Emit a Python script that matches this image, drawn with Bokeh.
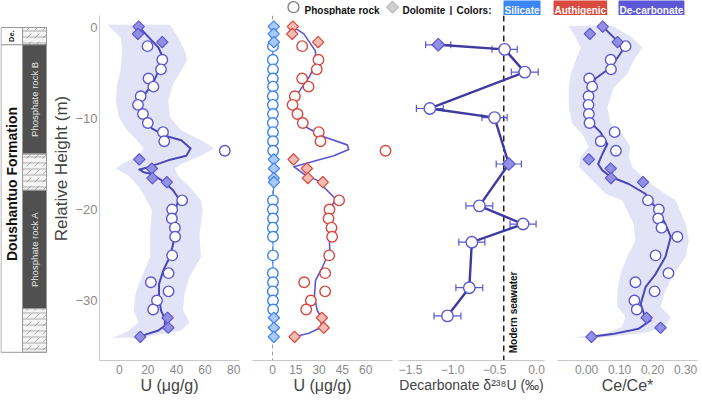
import math
from bokeh.plotting import figure
from bokeh.layouts import column, row
from bokeh.models import (Range1d, ColumnDataSource, Span, Whisker, TeeHead, Label,
                          FixedTicker, CustomJSTickFormatter)
from bokeh.core.properties import value
from bokeh.embed import file_html
from bokeh.resources import INLINE

# ---------------- data ----------------
heights = [0.1, -0.7, -1.6, -2.05, -3.55, -4.6, -5.6, -6.5, -7.55, -8.5, -9.5, -10.5,
           -11.5, -12.5, -13.55, -14.5, -15.5, -16.55, -17.0, -19.0, -20.0, -21.0, -22.0,
           -23.0, -25.05, -27.0, -28.0, -29.0, -30.0, -31.0, -31.9, -33.0, -34.0]
lithology = ["D", "D", "D"] + ["P"] * 12 + ["D"] * 4 + ["P"] * 11 + ["D"] * 3

u_decarb = [13.6, 13.1, 30.1, 19.8, 30.1, 29.2, 20.5, 23.9, 15.0, 13.1, 16.6, 20.0, 30.6,
            31.5, 73.8, 14.0, 22.8, 23.2, 33.3, 44.0, 37.0, 36.8, 38.9, 39.1, 37.0, 34.5,
            22.1, 34.5, 26.4, 23.7, 33.8, 34.3, 14.7]
u_auth = [13.1, 12.7, 29.4, 19.1, 29.6, 28.5, 19.1, 23.2, 14.4, 12.9, 16.1, 19.5, 29.8,
          30.9, 72.8, 13.5, 22.1, 22.8, 32.4, 42.9, 36.7, 36.1, 38.0, 38.4, 36.5, 33.9,
          20.4, 33.9, 24.7, 21.7, 31.8, 33.0, 14.2]
u_sil = [0.8, 0.7, 0.9, 0.3, 0.2, 0.3, 0.2, 0.3, 0.2, 0.2, 0.3, 0.2, 0.3, 0.3, 0.4, 0.8,
         0.9, 0.8, 0.9, 0.3, 0.2, 0.3, 0.2, 0.3, 0.3, 0.2, 0.3, 0.2, 0.3, 0.4, 0.9, 0.9, 0.8]
ce_anom = [0.049, 0.010, 0.094, 0.118, 0.073, 0.074, 0.008, 0.017, 0.006, 0.006, 0.007,
           0.009, 0.085, 0.043, 0.089, 0.007, 0.073, 0.074, 0.171, 0.186, 0.219, 0.217,
           0.227, 0.275, 0.209, 0.248, 0.148, 0.206, 0.145, 0.152, 0.182, 0.224, 0.015]

# smoothed trend (de-carbonate U) and its envelope
smooth1_h = [0.1, -1.06, -2.2, -3.1, -4.4, -6.0, -7.3, -8.4, -9.7, -11.1, -11.9, -12.4,
             -13.3, -14.1, -14.6, -15.35, -15.6, -15.9, -16.1, -16.8, -17.9, -18.9, -19.6,
             -21.6, -23.8, -25.2, -26.7, -28.2, -29.6, -31.1, -32.0, -32.75, -33.3, -33.7, -34.0]
smooth1_u = [13.6, 20.5, 27.4, 30.0, 28.5, 23.9, 18.2, 14.7, 17.0, 22.8, 32.0, 43.4, 49.9,
             46.9, 34.3, 20.5, 14.0, 17.0, 22.8, 29.7, 37.7, 42.0, 40.0, 38.4, 37.7, 35.4,
             30.8, 27.8, 27.8, 29.2, 31.9, 31.9, 27.4, 19.3, 14.7]
band1_h = [0.3, -1.06, -2.5, -3.6, -4.7, -6.2, -8.0, -9.85, -11.3, -12.4, -13.3, -14.1,
           -15.0, -15.5, -16.3, -17.5, -19.0, -20.1, -22.7, -25.2, -27.4, -29.3, -31.1,
           -32.4, -33.3, -33.7, -34.1]
band1_lo = [-8.3, 0.9, 2.1, 1.6, 0.9, -1.4, -2.5, -0.2, 5.5, 12.4, 17.0, 13.6, 2.1, -2.5,
            6.7, 13.6, 19.3, 22.8, 21.6, 21.6, 15.9, 11.3, 10.1, 13.6, 6.7, 2.0, -5.0]
band1_hi = [35.4, 41.1, 45.7, 47.6, 43.4, 37.7, 34.3, 35.4, 43.4, 57.2, 66.4, 57.2, 43.4,
            38.9, 41.1, 49.2, 57.2, 58.4, 56.1, 57.2, 49.2, 45.7, 44.6, 49.2, 43.4, 30.0, 15.0]

# smoothed trend drawn in the authigenic panel
smooth2_h = [0.1, -0.7, -2.6, -4.1, -5.5, -7.1, -8.4, -9.7, -10.9, -12.0, -12.9, -13.4,
             -14.1, -15.3, -16.1, -16.8, -18.9, -19.6, -21.6, -24.5, -26.4, -27.8, -29.6,
             -31.1, -32.0, -33.0, -33.6, -34.0]
smooth2_u = [13.1, 20.2, 27.7, 27.7, 23.4, 16.9, 13.7, 15.9, 21.2, 33.0, 48.1, 49.1, 39.5,
             13.7, 20.2, 28.8, 41.0, 38.0, 36.3, 36.9, 32.0, 27.7, 27.0, 28.8, 32.0, 30.9,
             23.4, 14.2]

# Ce anomaly trend and envelope
smooth4_h = [0.1, -1.5, -2.05, -3.3, -4.4, -5.6, -6.5, -8.0, -9.5, -10.6, -11.5, -12.8,
             -13.9, -15.0, -15.7, -16.4, -17.2, -18.3, -19.0, -19.7, -21.6, -23.0, -25.2,
             -27.1, -28.5, -30.4, -31.5, -32.2, -33.1, -33.7, -34.0]
smooth4_c = [0.049, 0.094, 0.118, 0.094, 0.073, 0.027, 0.017, 0.012, 0.012, 0.017, 0.042,
             0.063, 0.048, 0.035, 0.048, 0.073, 0.128, 0.179, 0.189, 0.209, 0.239, 0.255,
             0.239, 0.209, 0.179, 0.164, 0.174, 0.194, 0.158, 0.078, 0.015]
band4_h = [0.2, -1.1, -2.2, -3.6, -5.1, -6.6, -8.75, -10.6, -11.7, -13.1, -14.2, -15.3,
           -16.8, -18.3, -19.0, -21.6, -23.4, -25.2, -27.1, -28.9, -30.7, -31.8, -32.9,
           -33.6, -34.1]
band4_lo = [-0.054, -0.033, -0.018, -0.033, -0.048, -0.054, -0.054, -0.043, -0.013, 0.007,
            -0.018, -0.023, 0.017, 0.058, 0.108, 0.143, 0.148, 0.123, 0.103, 0.093, 0.093,
            0.118, 0.108, 0.060, -0.043]
band4_hi = [0.078, 0.138, 0.169, 0.143, 0.123, 0.083, 0.063, 0.073, 0.108, 0.133, 0.128,
            0.138, 0.179, 0.239, 0.270, 0.300, 0.310, 0.300, 0.265, 0.239, 0.224, 0.255,
            0.239, 0.170, 0.040]

# uranium isotopes
d238_h = [-1.9, -2.4, -4.9, -8.9, -9.9, -15.0, -19.6, -21.6, -23.6, -28.6, -31.7]
d238_val = [-1.17, -0.38, -0.14, -1.27, -0.50, -0.33, -0.68, -0.16, -0.77, -0.80, -1.06]
d238_err = [0.15, 0.15, 0.16, 0.16, 0.15, 0.15, 0.16, 0.155, 0.155, 0.16, 0.16]
d238_lith = ["D", "P", "P", "P", "P", "D", "P", "P", "P", "P", "P"]
seawater_d238 = -0.39

# stratigraphy
unit_names = ["De.", "Doushantuo Formation"]
unit_top = [0.0, -1.9]
unit_bot = [-1.9, -35.7]
lith_names = ["", "Phosphate rock B", "", "Phosphate rock A", ""]
lith_kind = ["dolomite", "phosphate", "dolomite", "phosphate", "dolomite"]
lith_top = [0.0, -1.9, -13.9, -17.9, -30.9]
lith_bot = [-1.9, -13.9, -17.9, -30.9, -35.7]

y_ticks = [0, -10, -20, -30]
x1_ticks = [0, 20, 40, 60, 80]
x2_ticks = [0, 15, 30, 45, 60]
x3_ticks = [-1.5, -1.0, -0.5, 0.0]
x4_ticks = [0.0, 0.1, 0.2, 0.3]

legend_colors = ["Silicate", "Authigenic", "De-carbonate"]

# ---------------- style ----------------
FONT = "Liberation Sans"
PURPLE = "#5b57d1"
PURPLE_LINE = "#4a45b8"
PURPLE_DARK = "#3f3a9f"
PURPLE_FILL = "#938fe3"
RED = "#d9473c"
RED_FILL = "#f4bbb3"
BLUE = "#3b82f6"
BLUE_FILL = "#abcaf8"
BADGE = {"Silicate": "#3a86f7", "Authigenic": "#db4a3e", "De-carbonate": "#5b57d6"}

STRIP = 15
YR = Range1d(-36.6, 1.32)
H = 405 - STRIP
FB = 45


def split(xs, ys, kinds, kind):
    return ColumnDataSource(dict(x=[a for a, k in zip(xs, kinds) if k == kind],
                                 y=[b for b, k in zip(ys, kinds) if k == kind]))


def fmt(dec):
    return ("var s = Math.abs(tick).toFixed(%d); return (tick < -1e-9 ? '\u2212' : '') + s;" % dec)


def base(width, bl, br, xr, yaxis=False, xaxis=True):
    p = figure(width=width, height=H, x_range=xr, y_range=YR,
               min_border_left=bl, min_border_right=br, min_border_top=0,
               min_border_bottom=FB, toolbar_location=None, output_backend="svg",
               x_axis_location=("below" if xaxis else None),
               y_axis_location=("left" if yaxis else None))
    p.outline_line_color = None
    p.grid.grid_line_color = None
    p.background_fill_color = "white"
    p.border_fill_color = "white"
    return p


def style_axis(ax, ticks, dec, label, size="12px", lsize="16px"):
    ax.ticker = FixedTicker(ticks=ticks)
    ax.formatter = CustomJSTickFormatter(code=fmt(dec))
    ax.axis_line_color = "#c8c8c8"
    ax.axis_line_width = 1
    ax.major_tick_line_color = None
    ax.minor_tick_line_color = None
    ax.major_tick_out = 0
    ax.major_tick_in = 0
    ax.minor_tick_out = 0
    ax.minor_tick_in = 0
    ax.major_label_text_font = FONT
    ax.major_label_text_font_size = size
    ax.major_label_text_color = "#8a8a8a"
    ax.major_label_standoff = 4
    ax.axis_label = label
    ax.axis_label_text_font = FONT
    ax.axis_label_text_font_size = lsize
    ax.axis_label_text_font_style = "normal"
    ax.axis_label_text_color = "#444444"
    ax.axis_label_standoff = 0


def markers(p, xs, ys, kinds, edge, dfill, size=10.5):
    p.scatter("x", "y", source=split(xs, ys, kinds, "P"), marker="circle", size=size,
              fill_color="white", line_color=edge, line_width=1.4)
    p.scatter("x", "y", source=split(xs, ys, kinds, "D"), marker="square", angle=math.pi / 4,
              size=size - 2.5, fill_color=dfill, line_color=edge, line_width=1.2)


# ---------------- stratigraphic column ----------------
f0 = base(72, 0, 0, Range1d(0, 72), xaxis=False)
f0.quad(left=0.5, right=22, top=unit_top, bottom=unit_bot, fill_color="white",
        line_color="#9a9a9a", line_width=1)
for kind, t, b in zip(lith_kind, lith_top, lith_bot):
    if kind == "phosphate":
        f0.quad(left=22, right=46, top=t, bottom=b, fill_color="#505050",
                line_color="#9a9a9a", line_width=1)
    else:
        f0.quad(left=22, right=46, top=t, bottom=b, fill_color="#f4f4f4",
                line_color="#9a9a9a", line_width=1, hatch_pattern="horizontal_line",
                hatch_scale=6, hatch_color="#9a9a9a", hatch_weight=0.8)
        f0.quad(left=22, right=46, top=t, bottom=b, fill_color=None,
                line_color="#9a9a9a", line_width=1, hatch_pattern="right_diagonal_dash",
                hatch_scale=8, hatch_color="#9a9a9a", hatch_weight=0.8)
lith_mid = [(t + b) / 2 for t, b in zip(lith_top, lith_bot)]
f0.text(x=[34] * len(lith_names), y=lith_mid, text=lith_names, angle=math.pi / 2,
        text_font=value(FONT), text_font_size="9.5px", text_color="#e6e6e6",
        text_align="center", text_baseline="middle")
f0.text(x=[11], y=[(unit_top[0] + unit_bot[0]) / 2], text=[unit_names[0]], angle=math.pi / 2,
        text_font=value(FONT), text_font_size="7.5px", text_font_style="bold",
        text_color="#111111", text_align="center", text_baseline="middle")
f0.text(x=[11], y=[-17.2], text=[unit_names[1]], angle=math.pi / 2,
        text_font=value(FONT), text_font_size="14px", text_font_style="bold",
        text_color="#111111", text_align="center", text_baseline="middle")
f0.text(x=[61], y=[-15.5], text=["Relative Height (m)"], angle=math.pi / 2,
        text_font=value(FONT), text_font_size="17px", text_color="#444444",
        text_align="center", text_baseline="middle")

# ---------------- panel 1: de-carbonate U ----------------
p1 = base(171, 25, 4, Range1d(-13.8, 84.1), yaxis=True)
style_axis(p1.xaxis[0], x1_ticks, 0, "U (\u03bcg/g)")
ya = p1.yaxis[0]
ya.ticker = FixedTicker(ticks=y_ticks)
ya.formatter = CustomJSTickFormatter(code=fmt(0))
ya.axis_line_color = "#c8c8c8"
ya.major_tick_line_color = None
ya.minor_tick_line_color = None
ya.major_tick_out = 0
ya.major_tick_in = 0
ya.minor_tick_out = 0
ya.minor_tick_in = 0
ya.major_label_text_font = FONT
ya.major_label_text_font_size = "13px"
ya.major_label_text_color = "#8a8a8a"
ya.major_label_standoff = 2
p1.harea(x1=band1_lo, x2=band1_hi, y=band1_h, fill_color=PURPLE, fill_alpha=0.17)
p1.line(smooth1_u, smooth1_h, line_color=PURPLE_LINE, line_width=2, line_join="round")
markers(p1, u_decarb, heights, lithology, PURPLE, PURPLE_FILL)

# ---------------- panel 2: silicate / authigenic U ----------------
p2 = base(153, 9, 4, Range1d(-12.9, 77.3))
style_axis(p2.xaxis[0], x2_ticks, 0, "U (\u03bcg/g)")
p2.add_layout(Span(location=0, dimension="height", line_color="#9a9a9a",
                   line_dash="4 3", line_width=1, level="underlay"))
p2.line(u_sil, heights, line_color=BLUE, line_width=1)
p2.line(smooth2_u, smooth2_h, line_color=PURPLE, line_width=1.6, line_join="round")
markers(p2, u_sil, heights, lithology, BLUE, BLUE_FILL)
markers(p2, u_auth, heights, lithology, RED, RED_FILL)

# ---------------- panel 3: delta 238U ----------------
p3 = base(154, 2, 6, Range1d(-1.643, 0.095))
style_axis(p3.xaxis[0], x3_ticks, 1, "Decarbonate \u03b4\u00b2\u00b3\u2078U (\u2030)",
           lsize="14px")
p3.add_layout(Span(location=seawater_d238, dimension="height", line_color="#222222",
                   line_dash="6 4", line_width=1.5, level="underlay"))
p3.text(x=[-0.27], y=[-35.8], text=["Modern seawater"], angle=math.pi / 2,
        text_font=value(FONT), text_font_size="10px", text_font_style="bold",
        text_color="#111111", text_align="left", text_baseline="middle")
src3 = ColumnDataSource(dict(h=d238_h,
                             lo=[v - e for v, e in zip(d238_val, d238_err)],
                             hi=[v + e for v, e in zip(d238_val, d238_err)]))
p3.add_layout(Whisker(source=src3, base="h", lower="lo", upper="hi", dimension="width",
                      line_color=PURPLE, line_width=1.2, level="underlay",
                      lower_head=TeeHead(size=7, line_color=PURPLE, line_width=1.2),
                      upper_head=TeeHead(size=7, line_color=PURPLE, line_width=1.2)))
p3.line(d238_val, d238_h, line_color=PURPLE_DARK, line_width=2.4, line_join="round")
markers(p3, d238_val, d238_h, d238_lith, PURPLE, PURPLE_FILL, size=11.5)

# ---------------- panel 4: Ce anomaly ----------------
p4 = base(152, 7, 5, Range1d(-0.088, 0.336))
style_axis(p4.xaxis[0], x4_ticks, 2, "Ce/Ce*")
p4.harea(x1=band4_lo, x2=band4_hi, y=band4_h, fill_color=PURPLE, fill_alpha=0.17)
p4.line(smooth4_c, smooth4_h, line_color=PURPLE_LINE, line_width=2, line_join="round")
markers(p4, ce_anom, heights, lithology, PURPLE, PURPLE_FILL)

# ---------------- legend strip ----------------
ft = figure(width=702, height=STRIP, x_range=Range1d(0, 702), y_range=Range1d(0, STRIP),
            min_border=0, toolbar_location=None, output_backend="svg",
            x_axis_location=None, y_axis_location=None)
ft.outline_line_color = None
ft.grid.grid_line_color = None
ft.scatter([293], [8.3], marker="circle", size=11, fill_color="white",
           line_color="#777777", line_width=1.3)
ft.scatter([392], [8.3], marker="square", angle=math.pi / 4, size=8.5,
           fill_color="#cfcfcf", line_color="#a5a5a5", line_width=1)
ft.text(x=[304, 402, 449, 456], y=[5, 5, 5, 5],
        text=["Phosphate rock", "Dolomite", "|", "Colors:"],
        text_font=value(FONT), text_font_size="10px", text_font_style="bold",
        text_color="#111111", text_align="left", text_baseline="alphabetic")
for name, x0 in zip(legend_colors, [503, 553, 618]):
    ft.add_layout(Label(x=x0, y=5, text=name, text_font=FONT, text_font_size="10px",
                        text_font_style="bold", text_color="white",
                        text_baseline="alphabetic", background_fill_color=BADGE[name],
                        background_fill_alpha=1.0, padding=(1, 6), border_radius=3))

layout = column(ft, row(f0, p1, p2, p3, p4))
open("out.html", "w").write(file_html(layout, INLINE))
